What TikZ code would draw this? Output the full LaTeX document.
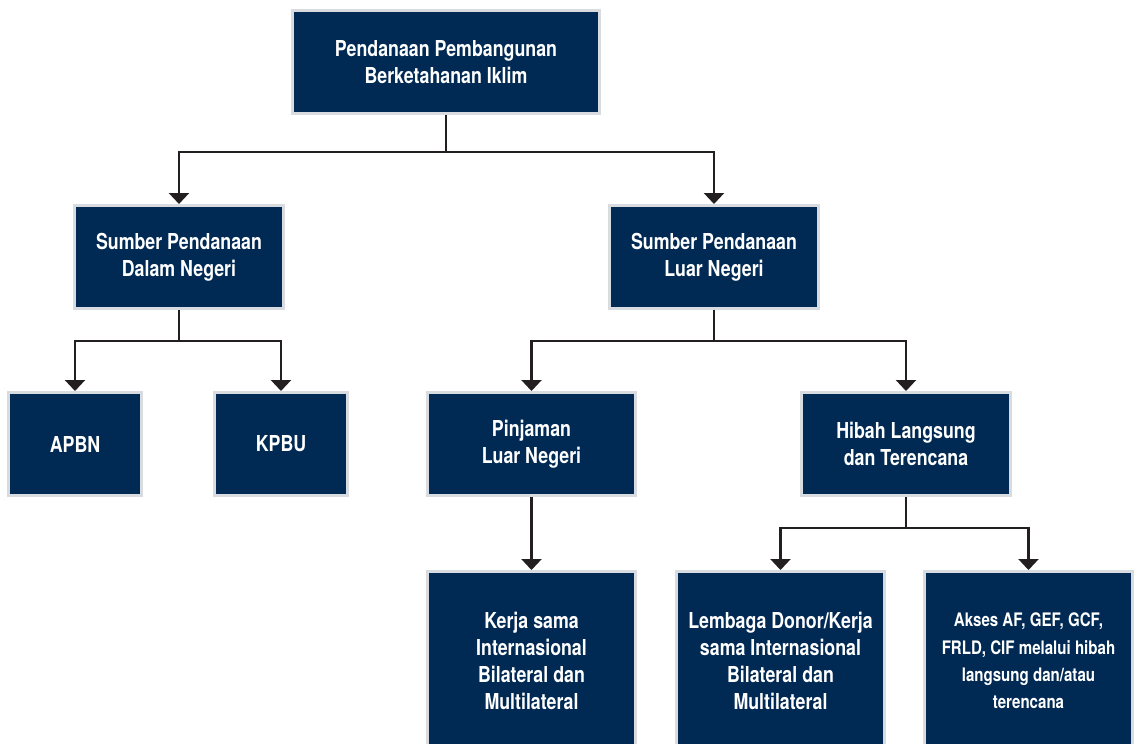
\documentclass[tikz,border=0pt]{standalone}
\usepackage{fontspec}
\setsansfont{TeX Gyre Heros}[FakeStretch=0.81]
\usepackage{tikz}
\usetikzlibrary{arrows.meta}

\definecolor{boxnavy}{HTML}{002A54}
\definecolor{boxedge}{HTML}{D8DBDF}
\definecolor{linkdark}{HTML}{231F20}

\begin{document}
\begin{tikzpicture}[x=0.02cm, y=-0.02cm,
    every node/.style={rectangle, draw=boxedge, line width=0.06cm, fill=boxnavy, text=white, align=center, inner sep=0pt,
        font=\sffamily\bfseries\fontsize{12.5}{15.5}\selectfont},
    headbox/.style={minimum width=6.14cm, minimum height=2.06cm},
    midbox/.style={minimum width=4.18cm, minimum height=2.06cm},
    smallbox/.style={minimum width=2.66cm, minimum height=2.06cm},
    tallbox/.style={minimum width=4.18cm, minimum height=3.58cm},
    link/.style={draw=linkdark, line width=0.045cm, -{Triangle[width=0.4cm, length=0.22cm]}}]
    \clip (0,0) rectangle (1134,744);
    \fill[white] (0,0) rectangle (1134,744);

    % level 0
    \node[headbox] (top) at (446,62) {Pendanaan Pembangunan\\Berketahanan Iklim};
    % level 1
    \node[midbox] (dalam) at (179,257) {Sumber Pendanaan\\Dalam Negeri};
    \node[midbox] (luar) at (714,257) {Sumber Pendanaan\\Luar Negeri};
    % level 2
    \node[smallbox] (apbn) at (75,444) {APBN};
    \node[smallbox] (kpbu) at (281,444) {KPBU};
    \node[midbox] (pinjaman) at (531.5,444) {Pinjaman\\Luar Negeri};
    \node[midbox] (hibah) at (906,444) {Hibah Langsung\\dan Terencana};
    % level 3
    \node[tallbox] (kerja) at (531.5,661) {Kerja sama\\Internasional\\Bilateral dan\\Multilateral};
    \node[tallbox] (lembaga) at (780.5,661) {Lembaga Donor/Kerja\\sama Internasional\\Bilateral dan\\Multilateral};
    \node[tallbox, font=\sffamily\bfseries\fontsize{10.6}{15.5}\selectfont] (akses) at (1028.5,661) {Akses AF, GEF, GCF,\\FRLD, CIF melalui hibah\\langsung dan/atau\\terencana};

    \draw[link] (top.south) -- ++(0,37) -| (dalam.north);
    \draw[link] (top.south) -- ++(0,37) -| (luar.north);
    \draw[link] (dalam.south) -- ++(0,31) -| (apbn.north);
    \draw[link] (dalam.south) -- ++(0,31) -| (kpbu.north);
    \draw[link] (luar.south) -- ++(0,31) -| (pinjaman.north);
    \draw[link] (luar.south) -- ++(0,31) -| (hibah.north);
    \draw[link] (pinjaman.south) -- (kerja.north);
    \draw[link] (hibah.south) -- ++(0,31) -| (lembaga.north);
    \draw[link] (hibah.south) -- ++(0,31) -| (akses.north);
\end{tikzpicture}
\end{document}
